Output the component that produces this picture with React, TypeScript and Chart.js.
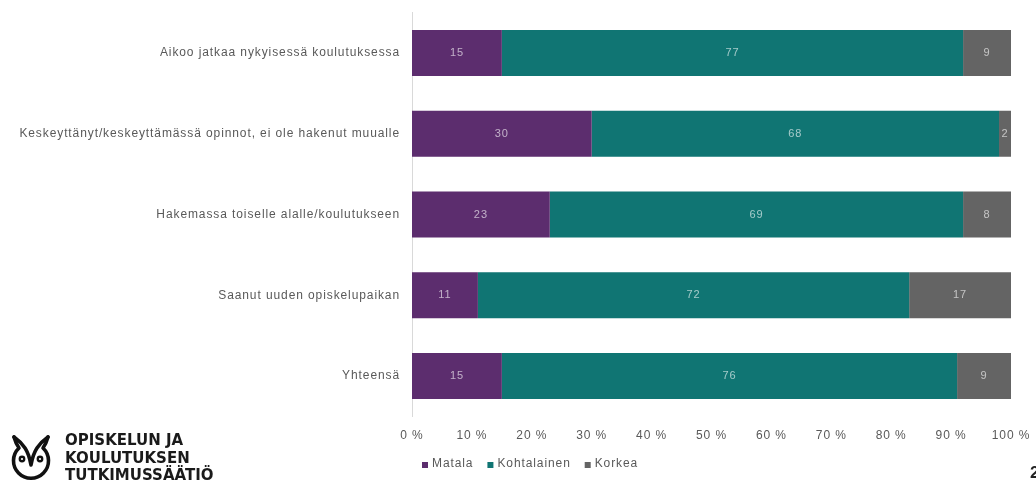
import React, { useEffect, useRef } from "react";
import { Chart, registerables } from "chart.js";

Chart.register(...registerables);

const categories = [
  "Aikoo jatkaa nykyisessä koulutuksessa",
  "Keskeyttänyt/keskeyttämässä opinnot, ei ole hakenut muualle",
  "Hakemassa toiselle alalle/koulutukseen",
  "Saanut uuden opiskelupaikan",
  "Yhteensä",
];
const matala = [15, 30, 23, 11, 15];
const kohtalainen = [77, 68, 69, 72, 76];
const korkea = [9, 2, 8, 17, 9];
const seriesNames = ["Matala", "Kohtalainen", "Korkea"];
const seriesColors = ["#5c2d6e", "#107573", "#646464"];
const xTicks = [0, 10, 20, 30, 40, 50, 60, 70, 80, 90, 100];

const FONT = "'Liberation Sans', Arial, sans-serif";
const SPACING = "0.9px";

const spacingPlugin = {
  id: "spacing",
  beforeDraw(chart: any) {
    chart.ctx.letterSpacing = SPACING;
  },
};

const valueLabelPlugin = {
  id: "valueLabels",
  afterDatasetsDraw(chart: any) {
    const ctx = chart.ctx;
    const area = chart.chartArea;
    ctx.save();
    ctx.letterSpacing = SPACING;
    ctx.font = `11px ${FONT}`;
    ctx.fillStyle = "rgba(255,255,255,0.62)";
    ctx.textAlign = "center";
    ctx.textBaseline = "middle";
    chart.data.datasets.forEach((ds: any, di: number) => {
      const meta = chart.getDatasetMeta(di);
      meta.data.forEach((el: any, i: number) => {
        const x1 = Math.max(Math.min(el.x, el.base), area.left);
        const x2 = Math.min(Math.max(el.x, el.base), area.right);
        ctx.fillText(String(ds.data[i]), (x1 + x2) / 2, el.y);
      });
    });
    ctx.restore();
  },
};

const legendPlugin = {
  id: "customLegend",
  afterDraw(chart: any) {
    const ctx = chart.ctx;
    ctx.save();
    ctx.letterSpacing = SPACING;
    ctx.font = `12px ${FONT}`;
    ctx.textBaseline = "middle";
    ctx.textAlign = "left";
    let x = 422;
    const y = 464;
    chart.data.datasets.forEach((ds: any) => {
      ctx.fillStyle = ds.backgroundColor;
      ctx.fillRect(x, y - 2, 6, 6);
      x += 10;
      ctx.fillStyle = "#595959";
      ctx.fillText(ds.label, x, y);
      x += ctx.measureText(ds.label).width + 14;
    });
    ctx.restore();
  },
};

function Owl() {
  return (
    <svg width="40" height="50" viewBox="0 0 40 50" style={{ position: "absolute", left: 11, top: 434 }}>
      <g fill="none" stroke="#111" strokeWidth="3.6" strokeLinecap="round" strokeLinejoin="round">
        <path d="M3 3 Q5 10 8 14 A17.5 17.5 0 1 0 32 14 Q35 10 37 3" />
        <path d="M3 3 Q10 8 14 14 Q18 20 20 31 Q22 20 26 14 Q30 8 37 3" />
      </g>
      <circle cx="11" cy="25" r="3.4" fill="#111" />
      <circle cx="29" cy="25" r="3.4" fill="#111" />
      <circle cx="11" cy="25" r="1.1" fill="#fff" />
      <circle cx="29" cy="25" r="1.1" fill="#fff" />
    </svg>
  );
}

export default function App() {
  const canvasRef = useRef<HTMLCanvasElement | null>(null);

  useEffect(() => {
    if (!canvasRef.current) return;
    const values = [matala, kohtalainen, korkea];
    const chart = new Chart(canvasRef.current, {
      type: "bar",
      data: {
        labels: categories,
        datasets: seriesNames.map((name, i) => ({
          label: name,
          data: values[i],
          backgroundColor: seriesColors[i],
          borderWidth: 0,
          categoryPercentage: 1,
          barPercentage: 0.57,
        })),
      },
      options: {
        indexAxis: "y",
        animation: false,
        responsive: false,
        maintainAspectRatio: false,
        layout: { padding: { top: 12.6, right: 25, left: 0, bottom: 0 } },
        plugins: {
          legend: { display: false },
          tooltip: { enabled: false },
        },
        scales: {
          x: {
            stacked: true,
            min: 0,
            max: 100,
            afterFit(scale: any) {
              scale.height = 68.6;
              scale.paddingLeft = 0;
              scale.paddingRight = 0;
            },
            afterBuildTicks(scale: any) {
              scale.ticks = xTicks.map((v) => ({ value: v }));
            },
            grid: { display: false, drawTicks: false },
            border: { display: false },
            ticks: {
              padding: 12,
              color: "#595959",
              font: { family: FONT, size: 12 },
              callback: (v: any) => `${v} %`,
              maxRotation: 0,
            },
          },
          y: {
            stacked: true,
            afterFit(scale: any) {
              scale.width = 412;
              scale.paddingTop = 0;
              scale.paddingBottom = 0;
            },
            grid: { display: false, drawTicks: false },
            border: { display: true, color: "#d9d9d9", width: 1 },
            ticks: {
              padding: 12,
              autoSkip: false,
              color: "#595959",
              font: { family: FONT, size: 12 },
            },
          },
        },
      },
      plugins: [spacingPlugin, valueLabelPlugin, legendPlugin],
    } as any);
    return () => chart.destroy();
  }, []);

  return (
    <div style={{ position: "absolute", left: 0, top: 0, width: 1036, height: 485, background: "#fff", overflow: "hidden" }}>
      <canvas ref={canvasRef} width={1036} height={485} style={{ position: "absolute", left: 0, top: 0 }} />
      <Owl />
      <div
        style={{
          position: "absolute",
          left: 65,
          top: 432,
          fontFamily: "'DejaVu Sans', sans-serif",
          fontWeight: 700,
          fontSize: 15,
          lineHeight: "17.5px",
          letterSpacing: "0px",
          color: "#1a1a1a",
          whiteSpace: "nowrap",
        }}
      >
        <div>OPISKELUN JA</div>
        <div>KOULUTUKSEN</div>
        <div>TUTKIMUSSÄÄTIÖ</div>
      </div>
      <div
        style={{
          position: "absolute",
          left: 1030,
          top: 463,
          fontFamily: FONT,
          fontWeight: 700,
          fontSize: 17,
          color: "#222",
        }}
      >
        2
      </div>
    </div>
  );
}
